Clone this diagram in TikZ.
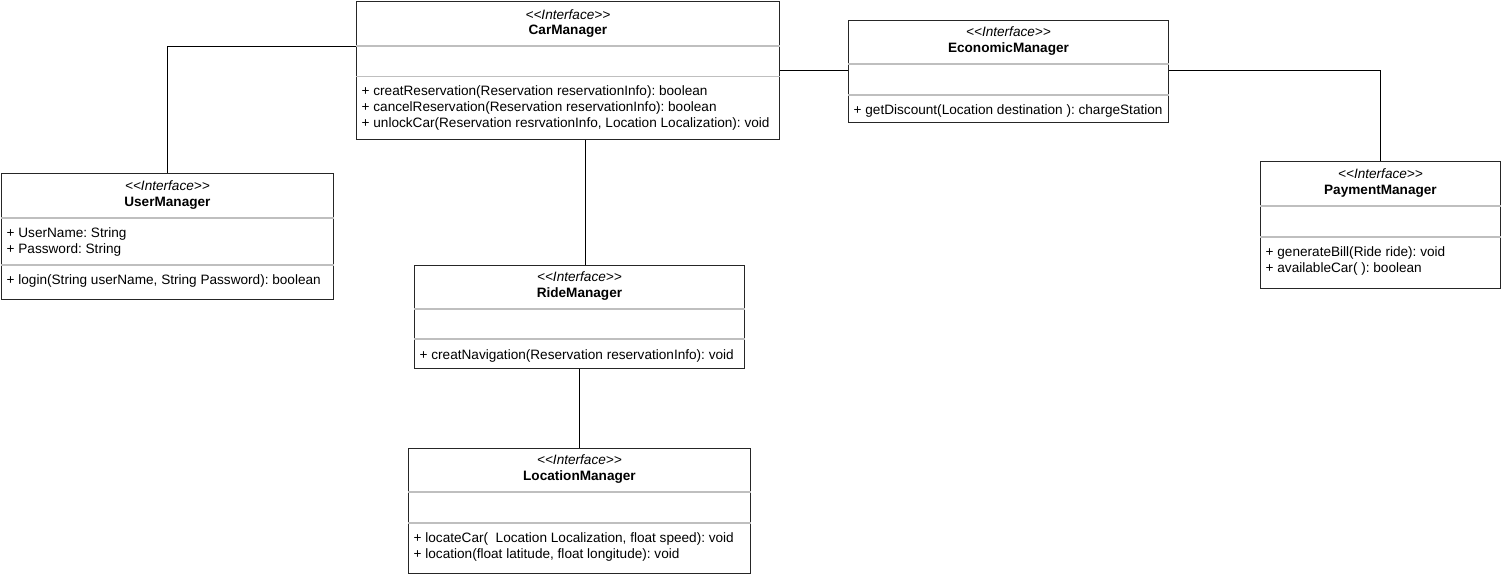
\documentclass[tikz,border=0pt]{standalone}
\usepackage{fontspec}
\setmainfont{Liberation Sans}
\frenchspacing
\tikzset{
  cls/.style={draw=black!85, line width=0.9pt, fill=white, anchor=north west, inner sep=0pt},
  divline/.style={draw=black!25, line width=1.3pt},
  stereo/.style={font=\fontsize{13.6}{15}\selectfont\itshape, inner sep=0pt, anchor=base},
  ctitle/.style={font=\fontsize{13.6}{15}\selectfont\bfseries, inner sep=0pt, anchor=base},
  member/.style={font=\fontsize{13.6}{15}\selectfont, inner sep=0pt, anchor=base west},
  link/.style={draw=black, line width=0.8pt},
}
% name, left, top, right, bottom, divider1, divider2, stereotype y
\newcommand\clsbox[8]{%
  \node[cls, minimum width={#4pt-#2pt}, minimum height={#5pt-#3pt}] (#1) at (#2,#3) {};
  \draw[divline] (#1.west |- 0,#6) -- (#1.east |- 0,#6);
  \draw[divline] (#1.west |- 0,#7) -- (#1.east |- 0,#7);
  \node[stereo] (#1-st) at (#1.north |- 0,#8) {{<}{<}Interface{>}{>}};
}
\begin{document}
\begin{tikzpicture}[x=1pt,y=-1pt]
\useasboundingbox (0,0) rectangle (1503,576);

% CarManager
\clsbox{car}{356}{1}{779}{139}{46}{76.5}{19.3}
\node[ctitle] (car-t) at (car.north |- 0,34.8) {CarManager};
\node[member] (car-m1) at (361.5,95.5) {+ creatReservation(Reservation reservationInfo): boolean};
\node[member] (car-m2) at (361.5,111.5) {+ cancelReservation(Reservation reservationInfo): boolean};
\node[member] (car-m3) at (361.5,127.5) {+ unlockCar(Reservation resrvationInfo, Location Localization): void};

% UserManager
\clsbox{user}{1}{173}{333}{299}{218}{265}{190.3}
\node[ctitle] (user-t) at (user.north |- 0,206.3) {UserManager};
\node[member] (user-a1) at (6.5,237.5) {+ UserName: String};
\node[member] (user-a2) at (6.5,253.5) {+ Password: String};
\node[member] (user-m1) at (6.5,284.5) {+ login(String userName, String Password): boolean};

% EconomicManager
\clsbox{econ}{848}{20}{1168}{122}{64}{95}{36.3}
\node[ctitle] (econ-t) at (econ.north |- 0,52.3) {EconomicManager};
\node[member] (econ-m1) at (853.5,114.5) {+ getDiscount(Location destination ): chargeStation};

% PaymentManager
\clsbox{pay}{1260}{161}{1500}{288}{206}{237}{178.3}
\node[ctitle] (pay-t) at (pay.north |- 0,194.3) {PaymentManager};
\node[member] (pay-m1) at (1265.5,256.5) {+ generateBill(Ride ride): void};
\node[member] (pay-m2) at (1265.5,272.5) {+ availableCar( ): boolean};

% RideManager
\clsbox{ride}{414}{265}{744}{368}{309}{339}{281.3}
\node[ctitle] (ride-t) at (ride.north |- 0,297.3) {RideManager};
\node[member] (ride-m1) at (419.5,359.5) {+ creatNavigation(Reservation reservationInfo): void};

% LocationManager
\clsbox{loc}{408}{448}{750}{573}{492}{523}{464.3}
\node[ctitle] (loc-t) at (loc.north |- 0,480.3) {LocationManager};
\node[member] (loc-m1) at (413.5,542.5) {+ locateCar(\ \ Location Localization, float speed): void};
\node[member] (loc-m2) at (413.5,558.5) {+ location(float latitude, float longitude): void};

% connectors
\draw[link] (car.north west |- 0,46) -| (user.north);
\draw[link] (car.south -| 585,0) -- (ride.north -| 585,0);
\draw[link] (ride.south) -- (loc.north);
\draw[link] (car.east) -- (econ.west |- car.east);
\draw[link] (econ.east |- car.east) -| (pay.north);
\end{tikzpicture}
\end{document}
